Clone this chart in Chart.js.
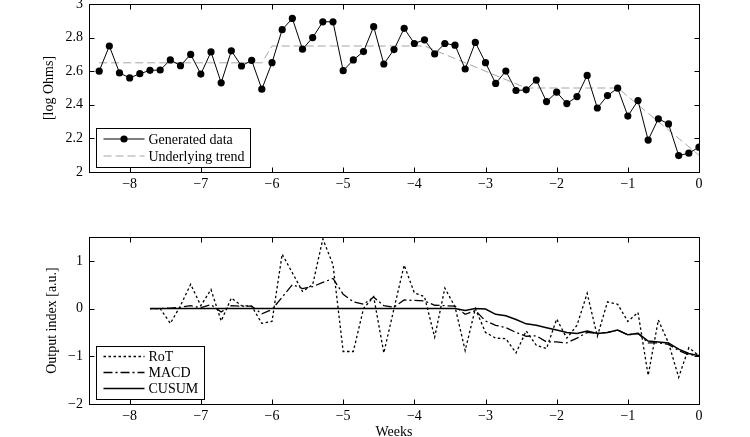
<!DOCTYPE html>
<html lang="en">
<head>
<meta charset="UTF-8">
<title>Generated data and output indices</title>
<script src="https://cdn.jsdelivr.net/npm/chart.js"></script>
<style>
    /* page is a fixed 750x437 figure */
    body {
        margin: 0px;
        background: white;
        overflow: hidden;
    }
    .panel {
        position: absolute;
        left: 0px;
    }
</style>
</head>
<body>

<canvas id="graphTop" class="panel" style="top:0px" width="750" height="200"></canvas>
<canvas id="graphBottom" class="panel" style="top:210px" width="750" height="229"></canvas>

<script>
    // ---- data ----
    const weekTicks = [-8, -7, -6, -5, -4, -3, -2, -1, 0];
    const topTicks = [2, 2.2, 2.4, 2.6, 2.8, 3];
    const bottomTicks = [-2, -1, 0, 1];

    // one value per day, last day = week 0
    const generated = [2.60, 2.75, 2.59, 2.56, 2.585, 2.605, 2.607, 2.667, 2.633, 2.70,
        2.583, 2.715, 2.531, 2.721, 2.631, 2.665, 2.493, 2.651, 2.847, 2.914,
        2.731, 2.80, 2.894, 2.894, 2.603, 2.667, 2.717, 2.865, 2.643, 2.729,
        2.855, 2.765, 2.787, 2.703, 2.765, 2.755, 2.613, 2.771, 2.651, 2.527,
        2.601, 2.485, 2.489, 2.547, 2.419, 2.475, 2.407, 2.449, 2.575, 2.381,
        2.455, 2.499, 2.333, 2.425, 2.19, 2.317, 2.286, 2.098, 2.112, 2.148];

    // trend breakpoints (day index, value)
    const trendDays = [-59, -43, -42, -27, -17, -8, 0];
    const trendValues = [2.65, 2.65, 2.75, 2.75, 2.5, 2.5, 2.1];

    const rot = [0, 0, -0.31, 0.06, 0.51, 0.06, 0.40, -0.26, 0.22, 0.06,
        0.05, -0.31, -0.27, 1.14, 0.75, 0.36, 0.5, 1.46, 0.92, -0.9,
        -0.9, 0.0, 0.25, -0.93, 0.0, 0.91, 0.33, 0.25, -0.6, 0.43,
        0.04, -0.88, 0.0, -0.5, -0.62, -0.63, -0.93, -0.47, -0.77, -0.84,
        -0.22, -0.62, -0.35, 0.32, -0.58, 0.14, 0.09, -0.27, -0.08, -1.4,
        -0.24, -0.72, -1.44, -0.82, -0.99];
    const macd = [0, 0, 0.01, 0.03, 0.06, 0.02, 0.08, -0.07, 0.06, 0.05,
        0.05, -0.11, -0.02, 0.24, 0.5, 0.42, 0.46, 0.55, 0.63, 0.3,
        0.14, 0.09, 0.24, 0.06, 0.03, 0.18, 0.17, 0.16, 0.07, 0.06,
        0.05, -0.12, -0.04, -0.26, -0.35, -0.4, -0.5, -0.58, -0.57, -0.7,
        -0.7, -0.72, -0.62, -0.5, -0.52, -0.5, -0.45, -0.55, -0.52, -0.72,
        -0.72, -0.75, -0.88, -0.97, -0.98];
    const cusum = [0, 0, 0, 0, 0, 0, 0, 0, 0, 0,
        0, 0, 0, 0, 0, 0, 0, 0, 0, 0,
        0, 0, 0, 0, 0, 0, 0, 0, 0, 0,
        0, -0.04, 0, -0.01, -0.12, -0.15, -0.23, -0.32, -0.35, -0.4,
        -0.45, -0.5, -0.52, -0.47, -0.52, -0.5, -0.45, -0.55, -0.52, -0.68,
        -0.7, -0.72, -0.85, -0.94, -0.99];

    const FONT = '"Liberation Serif", "Times New Roman", serif';

    // daily series ending at week 0
    function toWeeks(values) {
        return values.map(function (v, i) {
            return {x: (i - (values.length - 1)) / 7, y: v};
        });
    }

    function minusLabel(v) {
        v = Math.round(v * 10) / 10;
        return v < 0 ? '\u2212' + Math.abs(v) : String(v);
    }

    // box around the axes, inward ticks and a matlab-like legend
    const matlabBox = {
        id: 'matlabBox',
        afterDraw(chart, args, opts) {
            const ctx = chart.ctx;
            const a = chart.chartArea;
            const xs = chart.scales.x;
            const ys = chart.scales.y;
            const L = Math.round(a.left) + 0.5, R = Math.round(a.right) + 0.5;
            const T = Math.round(a.top) + 0.5, B = Math.round(a.bottom) + 0.5;
            ctx.save();
            ctx.strokeStyle = '#000';
            ctx.lineWidth = 1;
            ctx.setLineDash([]);
            ctx.strokeRect(L, T, R - L, B - T);
            ctx.beginPath();
            xs.ticks.forEach(function (t) {
                const px = Math.round(xs.getPixelForValue(t.value)) + 0.5;
                ctx.moveTo(px, B); ctx.lineTo(px, B - 5);
                ctx.moveTo(px, T); ctx.lineTo(px, T + 5);
            });
            ys.ticks.forEach(function (t) {
                const py = Math.round(ys.getPixelForValue(t.value)) + 0.5;
                ctx.moveTo(L, py); ctx.lineTo(L + 5, py);
                ctx.moveTo(R, py); ctx.lineTo(R - 5, py);
            });
            ctx.stroke();

            // legend, bottom left inside the axes
            const sets = chart.data.datasets;
            ctx.font = '14px ' + FONT;
            let textW = 0;
            sets.forEach(function (ds) { textW = Math.max(textW, ctx.measureText(ds.label).width); });
            const rowH = opts.rowH;
            const boxW = 8 + 41 + 4 + textW + 5;
            const boxH = sets.length * rowH + 5;
            const bx = L + 6, by = B - 6 - boxH;
            ctx.fillStyle = '#fff';
            ctx.fillRect(bx, by, boxW, boxH);
            ctx.strokeStyle = '#000';
            ctx.strokeRect(Math.round(bx) + 0.5, Math.round(by) + 0.5, Math.round(boxW), Math.round(boxH));
            sets.forEach(function (ds, i) {
                const cy = by + 3 + rowH * (i + 0.5);
                const x0 = bx + 8, x1 = x0 + 41;
                ctx.strokeStyle = ds.borderColor;
                ctx.lineWidth = ds.borderWidth;
                ctx.setLineDash(ds.borderDash || []);
                ctx.beginPath();
                ctx.moveTo(x0, cy); ctx.lineTo(x1, cy);
                ctx.stroke();
                ctx.setLineDash([]);
                if (ds.pointRadius > 0) {
                    ctx.fillStyle = ds.pointBackgroundColor;
                    ctx.beginPath();
                    ctx.arc((x0 + x1) / 2, cy, ds.pointRadius, 0, Math.PI * 2);
                    ctx.fill();
                }
                ctx.fillStyle = '#000';
                ctx.textBaseline = 'middle';
                ctx.textAlign = 'left';
                ctx.fillText(ds.label, x1 + 4, cy + 1);
            });
            ctx.restore();
        }
    };

    function xAxis(withTitle) {
        return {
            type: 'linear',
            min: -60 / 7,
            max: 0,
            grid: {display: false, drawTicks: false},
            border: {display: false},
            afterBuildTicks: function (s) { s.ticks = weekTicks.map(function (v) { return {value: v}; }); },
            afterFit: function (s) { s.height = withTitle ? 35 : 28; s.paddingLeft = 0; s.paddingRight = 0; },
            ticks: {padding: 4, color: '#000', font: {family: FONT, size: 14}, maxRotation: 0, callback: minusLabel},
            title: {display: withTitle, text: 'Weeks', color: '#000', padding: 0,
                font: {family: FONT, size: 14, lineHeight: 1}}
        };
    }

    function yAxis(min, max, ticks, label, titleGap) {
        return {
            type: 'linear',
            min: min,
            max: max,
            grid: {display: false, drawTicks: false},
            border: {display: false},
            afterBuildTicks: function (s) { s.ticks = ticks.map(function (v) { return {value: v}; }); },
            afterFit: function (s) { s.width = 89; s.paddingTop = 0; s.paddingBottom = 0; },
            ticks: {padding: 6, color: '#000', font: {family: FONT, size: 14}, callback: minusLabel},
            title: {display: true, text: label, color: '#000', padding: {top: titleGap, bottom: 0},
                font: {family: FONT, size: 14, lineHeight: 1.2}}
        };
    }

    const baseOptions = {
        responsive: false,
        animation: false,
        plugins: {legend: {display: false}, tooltip: {enabled: false}}
    };

    new Chart(document.getElementById('graphTop'), {
        type: 'line',
        data: {
            datasets: [{
                label: 'Generated data',
                data: toWeeks(generated),
                borderColor: '#000',
                borderWidth: 1,
                pointRadius: 3.6,
                pointBackgroundColor: '#000',
                pointBorderWidth: 0,
                tension: 0
            }, {
                label: 'Underlying trend',
                data: trendDays.map(function (d, i) { return {x: d / 7, y: trendValues[i]}; }),
                borderColor: 'rgb(165,165,165)',
                borderWidth: 1,
                borderDash: [8, 4],
                pointRadius: 0,
                tension: 0
            }]
        },
        options: Object.assign({}, baseOptions, {
            layout: {padding: {left: 0, right: 51, top: 4, bottom: 0}},
            scales: {
                x: xAxis(false),
                y: yAxis(2, 3, topTicks, '[log Ohms]', 41)
            },
            plugins: Object.assign({}, baseOptions.plugins, {matlabBox: {rowH: 17}})
        }),
        plugins: [matlabBox]
    });

    new Chart(document.getElementById('graphBottom'), {
        type: 'line',
        data: {
            datasets: [{
                label: 'RoT',
                data: toWeeks(rot),
                borderColor: '#000',
                borderWidth: 1.3,
                borderDash: [2.5, 2.5],
                pointRadius: 0,
                tension: 0
            }, {
                label: 'MACD',
                data: toWeeks(macd),
                borderColor: '#000',
                borderWidth: 1.3,
                borderDash: [9, 3, 2, 3],
                pointRadius: 0,
                tension: 0
            }, {
                label: 'CUSUM',
                data: toWeeks(cusum),
                borderColor: '#000',
                borderWidth: 1.5,
                pointRadius: 0,
                tension: 0
            }]
        },
        options: Object.assign({}, baseOptions, {
            layout: {padding: {left: 0, right: 51, top: 27, bottom: 0}},
            scales: {
                x: xAxis(true),
                y: yAxis(-2, 1.5, bottomTicks, 'Output index [a.u.]', 44)
            },
            plugins: Object.assign({}, baseOptions.plugins, {matlabBox: {rowH: 16}})
        }),
        plugins: [matlabBox]
    });
</script>
</body>
</html>
